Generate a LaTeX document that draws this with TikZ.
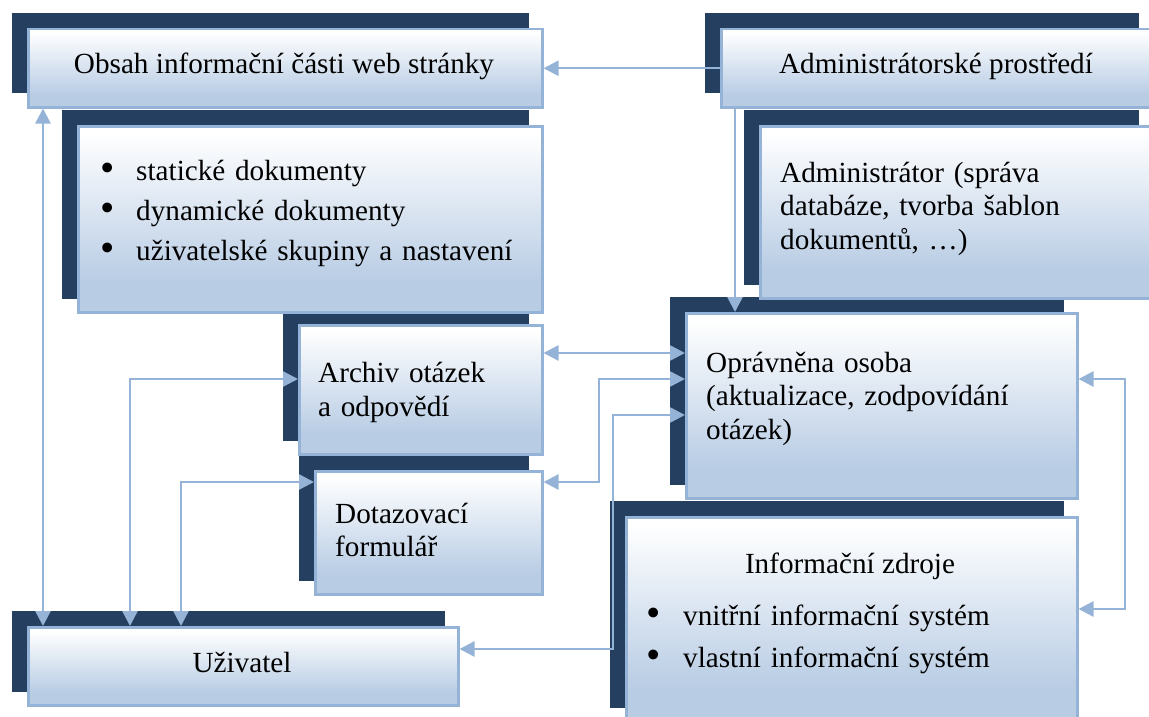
\documentclass[tikz,border=0pt]{standalone}
\usepackage{fontspec}
\usepackage{graphicx}
\setmainfont{Liberation Serif}
\usetikzlibrary{arrows.meta,backgrounds}
\definecolor{navy}{HTML}{243F60}
\definecolor{edgeblue}{HTML}{95B3D7}
\definecolor{boxblue}{HTML}{B8CCE4}
\pgfdeclareverticalshading{boxshade}{100bp}{color(0bp)=(boxblue); color(33bp)=(boxblue); color(73bp)=(white); color(100bp)=(white)}
\newcommand\bulglyph{\raisebox{-1.5pt}{\scalebox{1.4}{\textbullet}}}
\newcommand\bulA{\makebox[36pt][l]{\bulglyph}}
\newcommand\bulB{\makebox[37pt][l]{\bulglyph}}
\tikzset{
  mainbox/.style={draw=edgeblue, line width=2.5pt, shade, shading=boxshade, inner sep=0pt, anchor=north west},
  shadowfill/.style={fill=navy},
  txt/.style={inner sep=0pt, font=\fontsize{29.2}{33.5}\selectfont},
  para/.style={txt, anchor=base west, align=left, text width=#1},
  link/.style={draw=edgeblue, line width=2.5pt},
  onehead/.style={link, -{Triangle[length=15pt,width=15pt]}},
  twohead/.style={link, {Triangle[length=15pt,width=15pt]}-{Triangle[length=15pt,width=15pt]}}
}
\begin{document}
\begin{tikzpicture}[x=1pt,y=-1pt]
\useasboundingbox (0,0) rectangle (1149,717);
% boxes
\node[mainbox, minimum width=514pt, minimum height=78pt]  (obsah)  at (27,28)  {};
\node[mainbox, minimum width=464pt, minimum height=186pt] (olist)  at (77,125) {};
\node[mainbox, minimum width=431pt, minimum height=78pt]  (admin)  at (720,28) {};
\node[mainbox, minimum width=392pt, minimum height=172pt] (adminr) at (759,125) {};
\node[mainbox, minimum width=243pt, minimum height=129pt] (archiv) at (298,324) {};
\node[mainbox, minimum width=227pt, minimum height=123pt] (dotaz)  at (314,470) {};
\node[mainbox, minimum width=391pt, minimum height=185pt] (opr)    at (685,312) {};
\node[mainbox, minimum width=451pt, minimum height=204pt] (info)   at (625,516) {};
\node[mainbox, minimum width=430pt, minimum height=78pt]  (uziv)   at (27,626) {};
% shadows
\begin{scope}[on background layer]
\foreach \n in {obsah,olist,admin,adminr,archiv,dotaz,opr,info,uziv}
  \fill[shadowfill] ([shift={(-15,-15)}]\n.north west) rectangle ([shift={(-15,-15)}]\n.south east);
\end{scope}
% texts
\node[txt, anchor=base] (tobsah) at (284,74) {Obsah informační části web stránky};
\node[txt, anchor=base] (tadmin) at (936,74) {Administrátorské prostředí};
\node[para=420pt, font=\fontsize{29.2}{40}\selectfont] (tolist) at (100,180)
  {\bulA statické dokumenty\\ \bulA dynamické dokumenty\\ \bulA uživatelské skupiny a nastavení};
\node[para=380pt] (tadminr) at (780,182) {Administrátor (správa\\ databáze, tvorba šablon\\ dokumentů, …)};
\node[para=220pt, font=\fontsize{29.2}{34}\selectfont] (tarchiv) at (318,382) {Archiv otázek\\ a odpovědí};
\node[para=200pt, font=\fontsize{29.2}{33}\selectfont] (tdotaz) at (335,523) {Dotazovací\\ formulář};
\node[para=380pt] (topr) at (706,372) {Oprávněna osoba\\ (aktualizace, zodpovídání\\ otázek)};
\node[txt, anchor=base] (tinfo) at (850,573) {Informační zdroje};
\node[para=420pt, font=\fontsize{29.2}{42}\selectfont] (tilist) at (646,625)
  {\bulB vnitřní informační systém\\ \bulB vlastní informační systém};
\node[txt, anchor=base] (tuziv) at (242,672) {Uživatel};
% helper coordinates
\coordinate (r353) at (0,353);
\coordinate (r379) at (0,379);
\coordinate (r415) at (0,415);
\coordinate (r482) at (0,482);
\coordinate (r609) at (0,609);
\coordinate (r649) at (0,649);
\coordinate (c43) at (43,0);
\coordinate (c130) at (130,0);
\coordinate (c181) at (181,0);
\coordinate (c599) at (599,0);
\coordinate (c613) at (613,0);
\coordinate (c735) at (735,0);
\coordinate (c1125) at (1125,0);
% connectors
\draw[onehead] (admin.west) -- (obsah.east);
\draw[onehead] (c735 |- admin.south) -- (c735 |- opr.north);
\draw[twohead] (c43 |- obsah.south) -- (c43 |- uziv.north);
\draw[twohead] (archiv.east |- r353) -- (opr.west |- r353);
\draw[twohead] (archiv.west |- r379) -| (c130 |- uziv.north);
\draw[twohead] (dotaz.west |- r482) -| (c181 |- uziv.north);
\draw[twohead] (dotaz.east |- r482) -- (c599 |- r482) -- (c599 |- r379) -- (opr.west |- r379);
\draw[twohead] (opr.west |- r415) -- (c613 |- r415) -- (c613 |- r649) -- (uziv.east |- r649);
\draw[twohead] (opr.east |- r379) -- (c1125 |- r379) -- (c1125 |- r609) -- (info.east |- r609);
\end{tikzpicture}
\end{document}
